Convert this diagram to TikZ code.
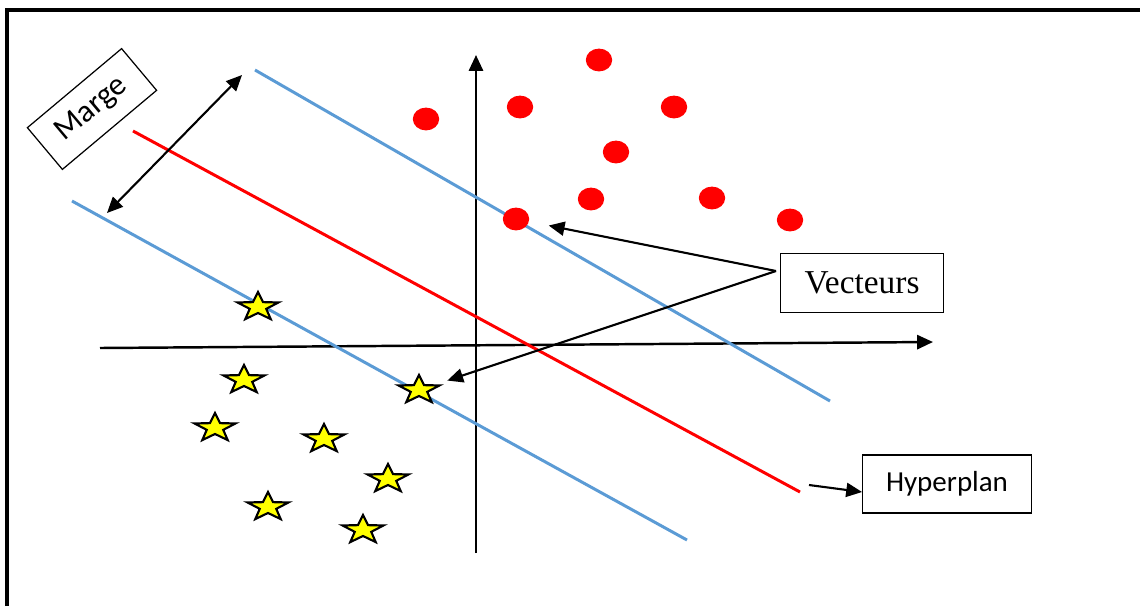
\documentclass[tikz,border=0pt]{standalone}
\usepackage{fontspec}
\setmainfont{Liberation Serif}
\newfontfamily\calib{Carlito}
\usetikzlibrary{arrows.meta, shapes.geometric, calc}
\definecolor{bleu}{HTML}{5B9BD5}
\definecolor{rouge}{HTML}{FF0000}
\definecolor{jaune}{HTML}{FFFF00}

\begin{document}
\begin{tikzpicture}[x=0.02cm,y=-0.02cm,>={Triangle[length=9pt,width=8pt]},
  axe/.style={->,line width=1.4pt},
  bord/.style={line width=1.7pt,draw=bleu},
  hyper/.style={line width=1.7pt,draw=rouge},
  pointrouge/.style={ellipse,fill=rouge,minimum width=15pt,minimum height=13pt,inner sep=0pt},
  etoile/.style={star,star points=5,star point ratio=2.5,draw,line width=1.2pt,
                 fill=jaune,minimum size=17pt,inner sep=0pt,xscale=1.45},
  boite/.style={draw,line width=0.7pt,inner sep=0pt},
  fleche/.style={->,line width=1.2pt}]
  \useasboundingbox (0,0) rectangle (1140,606);
  % cadre
  \draw[line width=1.8pt] (7,606) -- (7,10) -- (1140,10);
  % axes
  \coordinate (xa) at (100,348);
  \coordinate (xb) at (933,342);
  \coordinate (ya) at (476,553);
  \coordinate (yb) at (476,55);
  \draw[axe] (xa) -- (xb);
  \draw[axe] (ya) -- (yb);
  % hyperplan et marges
  \coordinate (b1) at (255,70);  \coordinate (b2) at (830,401);
  \coordinate (b3) at (72,201);  \coordinate (b4) at (687,540);
  \coordinate (r1) at (133,131); \coordinate (r2) at (800,492);
  \draw[bord] (b1) -- (b2);
  \draw[bord] (b3) -- (b4);
  \draw[hyper] (r1) -- (r2);
  % classe +1
  \foreach \n/\x/\y in {1/599/60, 2/520/107, 3/426/119, 4/674/107, 5/616/152,
                        6/591/199, 7/712/198, 8/516/219, 9/790/220}
    \node[pointrouge] (d\n) at (\x,\y) {};
  % classe -1
  \foreach \n/\x/\y in {1/258/307, 2/244/380, 3/215/428, 4/324/439, 5/419/390,
                        6/388/479, 7/268/507, 8/363/530}
    \node[etoile] (s\n) at (\x,\y) {};
  % etiquettes
  \node[boite,minimum width=93pt,minimum height=34pt,font=\fontsize{19}{21}\selectfont]
    (vect) at (862,283) {Vecteurs};
  \node[boite,minimum width=96pt,minimum height=33pt,font=\calib\fontsize{16.5}{18}\selectfont]
    (hyp) at (947,484) {Hyperplan};
  \node[boite,minimum width=70pt,minimum height=31pt,rotate=40,font=\calib\fontsize{18}{20}\selectfont]
    (mrg) at (92,109) {Marge};
  % fleches
  \coordinate (vx) at (776,271);
  \coordinate (hx) at (809,485);
  \coordinate (m1) at (107,213);
  \coordinate (m2) at (242,75);
  \draw[fleche,shorten >=19pt] (vx) -- (d8.center);
  \draw[fleche,shorten >=17pt] (vx) -- (s5.center);
  \draw[fleche] (hx) -- ($(hyp.west)+(0,8)$);
  \draw[fleche,<->] (m1) -- (m2);
\end{tikzpicture}
\end{document}
